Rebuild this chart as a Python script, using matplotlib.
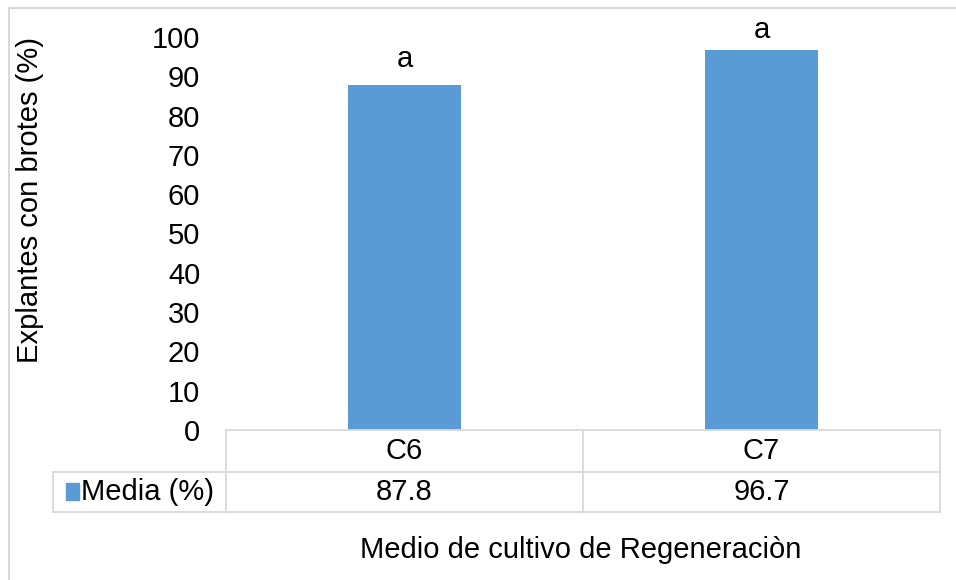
import matplotlib.pyplot as plt
from matplotlib.lines import Line2D
from matplotlib.patches import Rectangle

plt.rcParams['font.family'] = ['Liberation Sans', 'DejaVu Sans']

medios = ['C6', 'C7']
media = [87.8, 96.7]
letras = ['a', 'a']
serie = 'Media (%)'

azul = '#5b9bd5'
gris = '#d9d9d9'
fs = 21

fig = plt.figure(figsize=(9.56, 5.8), dpi=100)
W, H = 956, 580
# plot area: x 226..940 px, y 37..430 px (0 at bottom edge)
ax = fig.add_axes([226 / W, (H - 430) / H, (940 - 226) / W, (430 - 37) / H])

x = list(range(len(medios)))
ax.bar(x, media, width=0.314, color=azul, zorder=2)
# letter offsets above each bar
desp = [6.6, 5.0]
for xi, v, l, d in zip(x, media, letras, desp):
    ax.text(xi, v + d, l, ha='center', va='center', fontsize=fs, clip_on=False)

ax.set_xlim(-0.5, len(medios) - 0.5)
ax.set_ylim(0, 100)
ax.set_yticks(range(0, 101, 10))
ax.tick_params(axis='y', length=0, labelsize=fs, pad=18.5)
ax.set_xticks([])
for s in ax.spines.values():
    s.set_visible(False)
ax.set_ylabel('Explantes con brotes (%)', fontsize=fs)
ax.yaxis.set_label_coords(-182 / 714, 0.585)

# data table under the axis
tr = ax.get_xaxis_transform()
r1 = -42 / 393
r2 = -82 / 393
xleg = -0.5 - 173 / 357
xr = len(medios) - 0.5
kw = dict(transform=tr, color=gris, lw=1.3, clip_on=False)
ax.add_line(Line2D([-0.5, xr], [0, 0], **kw))
ax.add_line(Line2D([xleg, xr], [r1, r1], **kw))
ax.add_line(Line2D([xleg, xr], [r2, r2], **kw))
ax.add_line(Line2D([xleg, xleg], [r1, r2], **kw))
for b in range(len(medios) + 1):
    ax.add_line(Line2D([b - 0.5, b - 0.5], [0, r2], **kw))
for xi, m, v in zip(x, medios, media):
    ax.text(xi, r1 / 2, m, transform=tr, ha='center', va='center', fontsize=fs)
    ax.text(xi, (r1 + r2) / 2, f'{v:.1f}', transform=tr, ha='center', va='center', fontsize=fs)
ax.add_patch(Rectangle((xleg + 0.036, (r1 + r2) / 2 - 0.02), 0.036, 0.042,
                       transform=tr, color=azul, clip_on=False))
ax.text(xleg + 0.078, (r1 + r2) / 2, serie, transform=tr, ha='left', va='center', fontsize=fs)

fig.text(581 / W, 1 - 550 / H, 'Medio de cultivo de Regeneraciòn', ha='center', va='center', fontsize=fs)

# chart frame
fig.add_artist(Line2D([8.5 / W, 1], [1 - 7.5 / H, 1 - 7.5 / H], color=gris, lw=1.5))
fig.add_artist(Line2D([8.5 / W, 8.5 / W], [0, 1 - 7.5 / H], color=gris, lw=1.5))

fig.savefig('out.png', dpi=100)
